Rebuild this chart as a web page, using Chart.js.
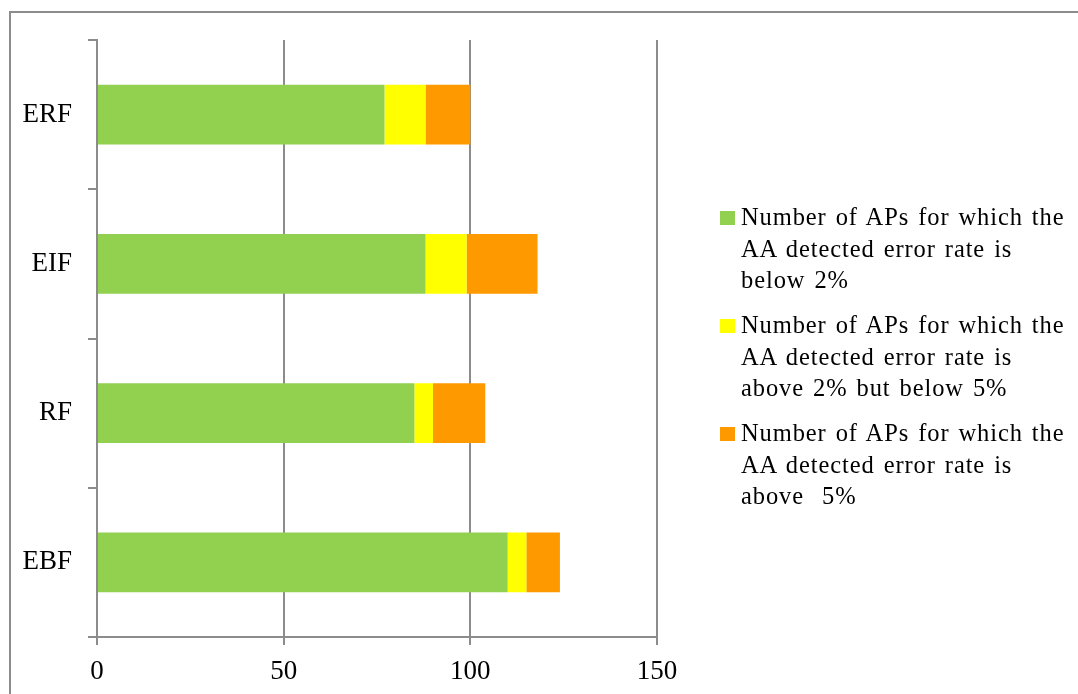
<!DOCTYPE html>
<html>
<head>
<meta charset="utf-8">
<script src="https://cdn.jsdelivr.net/npm/chart.js@4.4.1/dist/chart.umd.min.js"></script>
<style>
  html, body { margin: 0; padding: 0; background: #fff; }
  #wrap { position: relative; width: 1078px; height: 694px; overflow: hidden; }
  #chart { position: absolute; left: 0; top: 0; }
  #legend { position: absolute; left: 720px; top: 201px; width: 358px;
            font-family: "Liberation Serif", serif; font-size: 24.5px;
            line-height: 31.7px; letter-spacing: 0.9px; word-spacing: 2px; color: #000; }
  .item { position: absolute; left: 0; width: 358px; }
  .swatch { position: absolute; left: 0; top: 10px; width: 15px; height: 14px; }
  .text { position: absolute; left: 21px; top: 0; white-space: pre; }
</style>
</head>
<body>
<div id="wrap">
  <canvas id="chart" width="1078" height="694"></canvas>
  <div id="legend"></div>
</div>
<script>
// Sample groups, listed top to bottom
const categories = ['ERF', 'EIF', 'RF', 'EBF'];

// Number of APs in each error-rate band
const below2 = [77, 88, 85, 110];
const between2and5 = [11, 11, 5, 5];
const above5 = [12, 19, 14, 9];

// Value axis ticks
const xTicks = [0, 50, 100, 150];

const seriesLabels = [
  ['Number of APs for which the', 'AA detected error rate is', 'below 2%'],
  ['Number of APs for which the', 'AA detected error rate is', 'above 2% but below 5%'],
  ['Number of APs for which the', 'AA detected error rate is', 'above  5%']
];
const seriesColors = ['#92D050', '#FFFF00', '#FF9900'];

const axisGrey = '#8c8c8c';
const axisFont = { family: 'Liberation Serif', size: 27 };

// Grey frame around the whole figure
const framePlugin = {
  id: 'frame',
  beforeDraw(chart) {
    const ctx = chart.ctx;
    ctx.save();
    ctx.fillStyle = '#fff';
    ctx.fillRect(0, 0, chart.width, chart.height);
    ctx.strokeStyle = axisGrey;
    ctx.lineWidth = 2;
    ctx.strokeRect(10, 12, 2000, 2000);
    ctx.restore();
  }
};

const seriesData = [below2, between2and5, above5];

const chart = new Chart(document.getElementById('chart'), {
  type: 'bar',
  data: {
    labels: categories,
    datasets: seriesData.map((d, i) => ({
      label: seriesLabels[i].join(' '),
      data: d,
      backgroundColor: seriesColors[i],
      borderWidth: 0,
      barPercentage: 0.4,
      categoryPercentage: 1
    }))
  },
  options: {
    indexAxis: 'y',
    responsive: false,
    animation: false,
    devicePixelRatio: 1,
    layout: { padding: { top: 40, right: 421, left: 0, bottom: 0 } },
    plugins: { legend: { display: false }, tooltip: { enabled: false } },
    scales: {
      x: {
        stacked: true,
        min: xTicks[0],
        max: xTicks[xTicks.length - 1],
        afterBuildTicks(scale) { scale.ticks = xTicks.map(v => ({ value: v })); },
        afterFit(scale) { scale.height = 57; },
        ticks: { font: axisFont, color: '#000', padding: 11, maxRotation: 0 },
        grid: { color: axisGrey, lineWidth: 2, tickLength: 8 },
        border: { color: axisGrey, width: 2 }
      },
      y: {
        stacked: true,
        afterFit(scale) { scale.width = 97; },
        ticks: { font: axisFont, color: '#000', padding: 16 },
        grid: { drawOnChartArea: false, offset: true, color: axisGrey, lineWidth: 2, tickLength: 9 },
        border: { color: axisGrey, width: 2 }
      }
    }
  },
  plugins: [framePlugin]
});

// Legend built from the chart's datasets
const legend = document.getElementById('legend');
chart.data.datasets.forEach((ds, i) => {
  const item = document.createElement('div');
  item.className = 'item';
  item.style.top = (i * 108) + 'px';
  const sw = document.createElement('div');
  sw.className = 'swatch';
  sw.style.background = ds.backgroundColor;
  const tx = document.createElement('div');
  tx.className = 'text';
  tx.textContent = seriesLabels[i].join('\n');
  item.appendChild(sw);
  item.appendChild(tx);
  legend.appendChild(item);
});
</script>
</body>
</html>
